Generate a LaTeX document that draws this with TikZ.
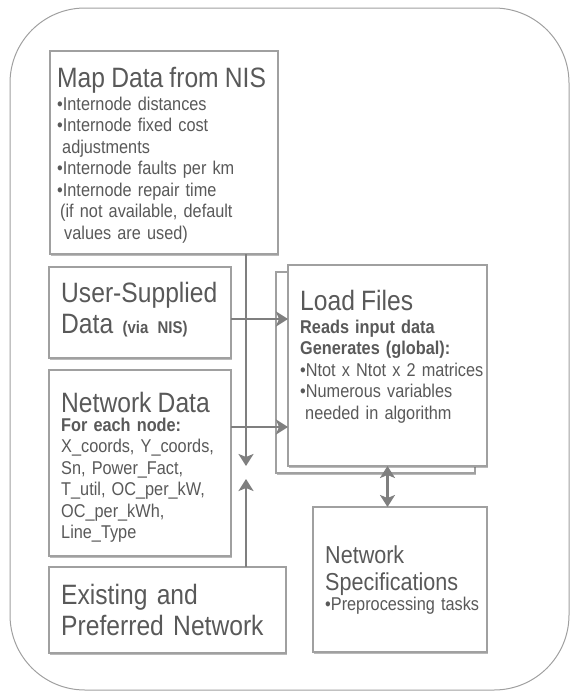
\documentclass[tikz,border=0pt]{standalone}
\usepackage{fontspec}
\setmainfont{Liberation Sans}[FakeStretch=0.88]
\usetikzlibrary{arrows.meta,shadows}

\definecolor{txtgray}{HTML}{595959}
\definecolor{linegray}{HTML}{A0A0A0}
\definecolor{arrgray}{HTML}{7F7F7F}

\newcommand\ttlfont{\fontsize{28}{31}\selectfont}
\newcommand\specfont{\fontsize{24.5}{27}\selectfont}
\newcommand\bodyfont{\fontsize{18.5}{21.5}\selectfont}
\newcommand\viafont{\fontsize{17}{17}\selectfont\bfseries}
\lineskiplimit=-20pt

\begin{document}
\begin{tikzpicture}
[
x=1pt, y=-1pt,
frame/.style={draw=linegray, line width=1pt, rounded corners=75pt},
box/.style={rectangle, draw=linegray, fill=white, line width=1.5pt, anchor=north west,
  inner sep=0pt, outer sep=0pt,
  drop shadow={shadow xshift=1.2pt, shadow yshift=-2.2pt, opacity=0.45, fill=black!60}},
txt/.style={anchor=base west, inner sep=0pt, text=txtgray, text width=#1, align=left, font=\bodyfont},
txt/.default=220pt,
arr/.style={draw=arrgray, line width=2.8pt, -{Stealth[length=12pt, width=15pt, inset=3pt]}},
arrboth/.style={draw=arrgray, line width=2.8pt,
  {Stealth[length=12pt, width=15pt, inset=3pt]}-{Stealth[length=12pt, width=15pt, inset=3pt]}},
]
%
\useasboundingbox (0,0) rectangle (576,696);
\draw [frame] (10,8) rectangle (569,690);

% input boxes
\node [box, minimum width=228pt, minimum height=203pt] (map)     at (50,51)  {};
\node [box, minimum width=182pt, minimum height=91pt]  (user)    at (49,267) {};
\node [box, minimum width=182pt, minimum height=186pt] (netdata) at (49,370) {};
\node [box, minimum width=237pt, minimum height=86pt]  (exist)   at (49,567) {};
%
\node [box, minimum width=199pt, minimum height=201pt] (loadback)  at (276,272) {};
\node [box, minimum width=199pt, minimum height=201pt] (loadfront) at (288,265) {};
\node [box, minimum width=174pt, minimum height=145pt] (spec)      at (313,507) {};

% connectors
\coordinate (vdown) at (246,466);
\coordinate (vup)   at (246,479);
\coordinate (uarr)  at (0,319);
\coordinate (narr)  at (0,427);
%
\draw [arr] (map.south -| vdown) -- (vdown);
\draw [arr] (exist.north -| vup) -- (vup);
\draw [arr] (user.east |- uarr) -- (loadfront.west |- uarr);
\draw [arr] (netdata.east |- narr) -- (loadfront.west |- narr);
\draw [arrboth] (loadfront.south) -- (loadfront.south |- spec.north);

% texts
\node [txt] (maptxt) at (57,87) {%
{\ttlfont Map Data from NIS}\\[1.5pt]
\textbullet Internode distances\\
\textbullet Internode fixed cost\\
\hspace*{5pt}adjustments\\
\textbullet Internode faults per km\\
\textbullet Internode repair time\\
\hspace*{3pt}(if not available, default\\
\hspace*{7pt}values are used)};

\node [txt, font=\ttlfont] (usertxt) at (61,302) {User-Supplied\\
Data {\viafont (via NIS)}};

\node [txt] (netdatatxt) at (61,412) {%
{\ttlfont Network Data}\\[-2.5pt]
\textbf{For each node:}\\
X\_coords, Y\_coords,\\
Sn, Power\_Fact,\\
T\_util, OC\_per\_kW,\\
OC\_per\_kWh,\\
Line\_Type};

\node [txt=230pt, font=\ttlfont] (existtxt) at (61,604) {Existing and\\
Preferred Network};

\node [txt=190pt] (loadtxt) at (300,310) {%
{\ttlfont Load Files}\\[1.5pt]
\textbf{Reads input data}\\
\textbf{Generates (global):}\\
\textbullet Ntot x Ntot x 2 matrices\\
\textbullet Numerous variables\\
\hspace*{5pt}needed in algorithm};

\node [txt=170pt] (spectxt) at (325,563) {%
{\specfont Network}\\[5.5pt]
{\specfont Specifications}\\[-1.5pt]
\textbullet Preprocessing tasks};
%
\end{tikzpicture}
\end{document}
